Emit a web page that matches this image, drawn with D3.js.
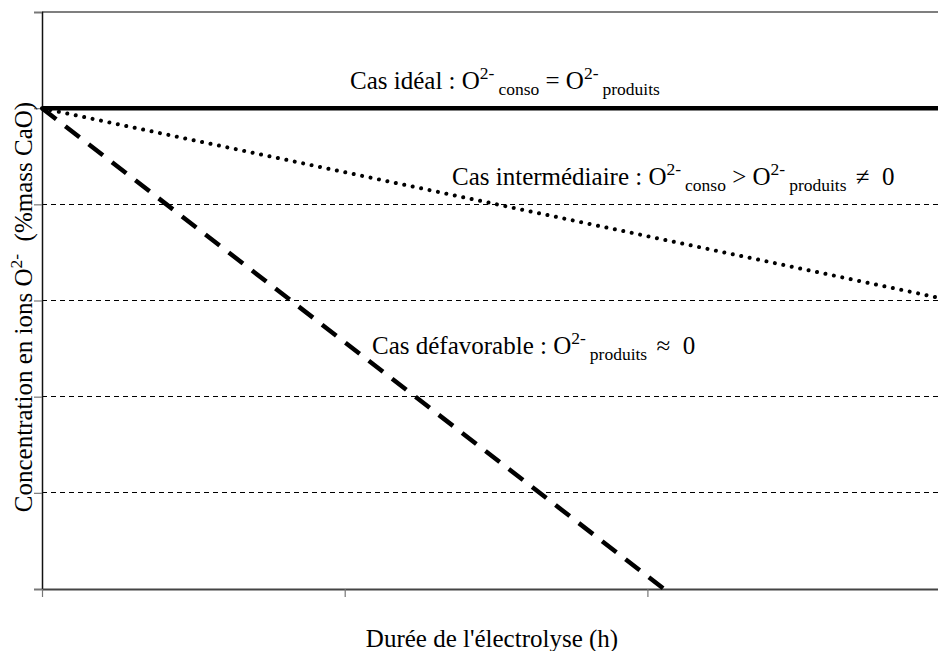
<!DOCTYPE html>
<html><head><meta charset="utf-8">
<script src="https://cdn.jsdelivr.net/npm/d3@7"></script>
<style>body{margin:0;background:#fff}svg{display:block}</style>
</head><body>
<svg id="c" width="938" height="651"></svg>
<script>
// Data (arbitrary units)
const yTicks = [0, 1, 2, 3, 4, 5, 6];
const xTicks = [0, 1, 2];
const xMax = 2.96;
const idealX = [0, 2.96], idealY = [5, 5];
const interX = [0, 2.96], interY = [5, 3.03];
const defavX = [0, 2.055], defavY = [5, 0];

const svg = d3.select("#c");
const m = {l: 42, r: 938, t: 12, b: 589};
const x = d3.scaleLinear().domain([0, xMax]).range([m.l, m.r]);
const y = d3.scaleLinear().domain([0, 6]).range([m.b, m.t]);
const font = "'Liberation Serif','Times New Roman',serif";
const F = 25, S = 17.5;

// gridlines
svg.append("g").selectAll("line").data(yTicks.filter(d => d > 0 && d < 6)).join("line")
  .attr("x1", m.l).attr("x2", m.r).attr("y1", d => y(d)).attr("y2", d => y(d))
  .attr("stroke", "#000").attr("stroke-width", 1).attr("stroke-dasharray", "5,4")
  .attr("shape-rendering", "crispEdges");
svg.append("line").attr("x1", m.l).attr("x2", m.r).attr("y1", y(6)).attr("y2", y(6))
  .attr("stroke", "#000").attr("stroke-width", 1.2);

// axes
const ya = svg.append("g").attr("transform", `translate(${m.l},0)`)
  .call(d3.axisLeft(y).tickValues(yTicks).tickSize(8).tickFormat(""));
ya.select(".domain").attr("stroke", "#111").attr("stroke-width", 1.5);
ya.selectAll(".tick line").attr("stroke", "#777").attr("stroke-width", 1.2);

const xa = svg.append("g").attr("transform", `translate(0,${m.b})`)
  .call(d3.axisBottom(x).tickValues(xTicks).tickSize(8).tickSizeOuter(0).tickFormat(""));
xa.select(".domain").attr("stroke", "#444").attr("stroke-width", 2);
xa.selectAll(".tick line").attr("stroke", "#777").attr("stroke-width", 1.2);

const line = d3.line().x(d => x(d[0])).y(d => y(d[1]));
const z = (a, b) => a.map((v, i) => [v, b[i]]);

svg.append("path").attr("d", line(z(interX, interY))).attr("fill", "none")
  .attr("stroke", "#000").attr("stroke-width", 4).attr("stroke-linecap", "round")
  .attr("stroke-dasharray", "0.01,8.6");
svg.append("path").attr("d", line(z(defavX, defavY))).attr("fill", "none")
  .attr("stroke", "#000").attr("stroke-width", 4.5)
  .attr("stroke-dasharray", "18,11.5");
svg.append("path").attr("d", line(z(idealX, idealY))).attr("fill", "none")
  .attr("stroke", "#000").attr("stroke-width", 4.5);

// labels
function label(px, py, parts) {
  const t = svg.append("text").attr("x", px).attr("y", py)
    .attr("font-family", font).attr("font-size", F).attr("fill", "#000")
    .attr("xml:space", "preserve");
  let cur = 0;
  parts.forEach(p => {
    const target = p.k === "sup" ? -10 : p.k === "sub" ? 6 : 0;
    t.append("tspan").attr("dy", target - cur)
      .attr("dx", p.k === "sub" ? 4 : (p.op ? 3 : 0))
      .attr("font-size", p.k ? S : F).text(p.s);
    cur = target;
  });
  return t;
}
label(350, 89, [{s: "Cas idéal : O"}, {s: "2-", k: "sup"}, {s: "conso", k: "sub"},
  {s: " = O"}, {s: "2-", k: "sup"}, {s: "produits", k: "sub"}]);
label(452, 185, [{s: "Cas intermédiaire : O"}, {s: "2-", k: "sup"}, {s: "conso", k: "sub"},
  {s: " > O"}, {s: "2-", k: "sup"}, {s: "produits", k: "sub"}, {s: " \u2260  0", op: true}]);
label(372, 354, [{s: "Cas défavorable : O"}, {s: "2-", k: "sup"}, {s: "produits", k: "sub"},
  {s: " \u2248  0", op: true}]);

svg.append("text").attr("x", 492).attr("y", 647).attr("text-anchor", "middle")
  .attr("font-family", font).attr("font-size", F).text("Durée de l'électrolyse (h)");

const yl = svg.append("text").attr("transform", "translate(32,307) rotate(-90)")
  .attr("text-anchor", "middle").attr("font-family", font).attr("font-size", F)
  .attr("xml:space", "preserve");
yl.append("tspan").text("Concentration en ions O");
yl.append("tspan").attr("dy", -10).attr("font-size", S).text("2-");
yl.append("tspan").attr("dy", 10).text("  (%mass CaO)");
</script>
</body></html>
